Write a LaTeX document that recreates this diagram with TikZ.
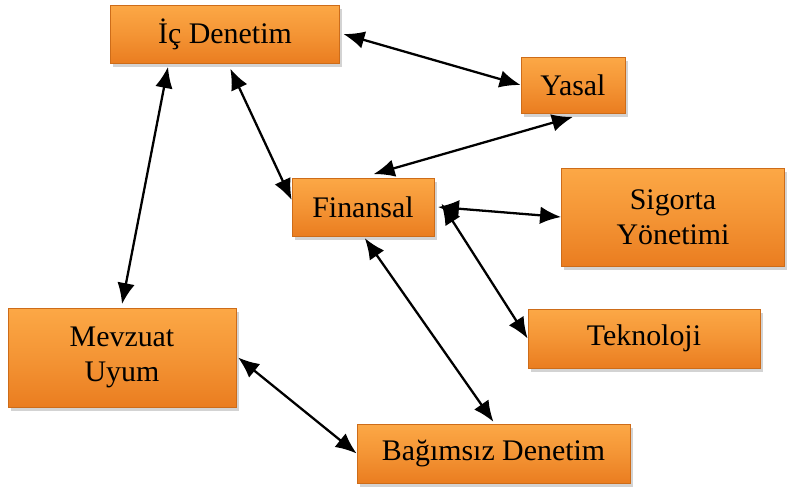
\documentclass[tikz,border=0pt]{standalone}
\usepackage{fontspec}
\setmainfont{Liberation Serif}
\usetikzlibrary{arrows.meta, shadows}

\definecolor{kutuust}{RGB}{252,168,70}
\definecolor{kutualt}{RGB}{234,125,32}
\definecolor{kutucizgi}{RGB}{205,108,25}

\tikzset{
	kutu/.style={draw=kutucizgi, line width=0.4pt, top color=kutuust, bottom color=kutualt, middle color=kutuust!55!kutualt, drop shadow={shadow xshift=1.5pt, shadow yshift=-2pt, opacity=0.35}, align=center, font=\fontsize{17}{20}\selectfont, inner sep=2pt},
	bag/.style={{Latex[length=12pt, width=10pt]}-{Latex[length=12pt, width=10pt]}, line width=1.3pt, black}
}

\begin{document}
\begin{tikzpicture}
	\useasboundingbox (0, 0) rectangle (15.88, -9.72);
	
	% kutular
	\node[kutu, minimum width=4.58cm, minimum height=1.16cm] (ic) at (4.5, -0.68) {İç Denetim};
	\node[kutu, minimum width=2.08cm, minimum height=1.12cm] (yasal) at (11.46, -1.70) {Yasal};
	\node[kutu, minimum width=2.84cm, minimum height=1.16cm] (fin) at (7.26, -4.14) {Finansal};
	\node[kutu, minimum width=4.46cm, minimum height=1.96cm] (sig) at (13.46, -4.34) {Sigorta\\Yönetimi};
	\node[kutu, minimum width=4.64cm, minimum height=1.18cm] (tek) at (12.88, -6.77) {Teknoloji};
	\node[kutu, minimum width=4.56cm, minimum height=1.98cm] (mev) at (2.44, -7.15) {Mevzuat\\Uyum};
	\node[kutu, minimum width=5.46cm, minimum height=1.18cm] (bgm) at (9.87, -9.07) {Bağımsız Denetim};
	
	% oklar
	\draw[bag] ([xshift=2pt]ic.east) -- (yasal.west);
	\draw[bag] ([yshift=-2pt]yasal.south) -- ([xshift=6pt, yshift=2pt]fin.north);
	\draw[bag] ([xshift=3pt, yshift=-3pt]ic.south) -- ([yshift=4pt]fin.west);
	\draw[bag] ([xshift=-1.14cm, yshift=-2pt]ic.south) -- ([yshift=2pt]mev.north);
	\draw[bag] ([xshift=2pt]fin.east) -- (sig.west);
	\draw[bag] ([xshift=4pt, yshift=2pt]fin.east) -- (tek.west);
	\draw[bag] ([xshift=1pt, yshift=-1pt]fin.south) -- ([yshift=1pt]bgm.north);
	\draw[bag] ([xshift=1pt]mev.east) -- (bgm.west);
	
\end{tikzpicture}
\end{document}
